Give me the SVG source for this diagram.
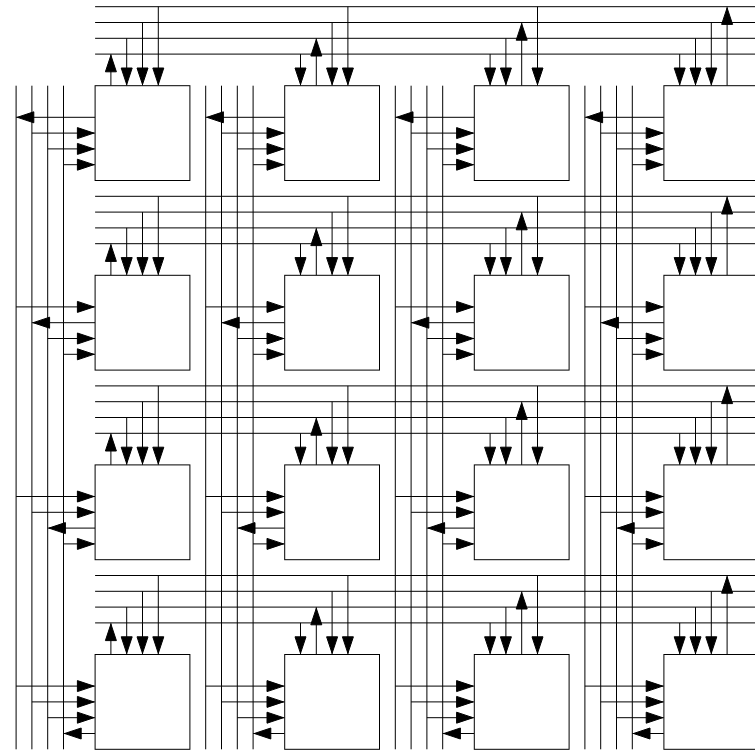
<svg xmlns="http://www.w3.org/2000/svg" width="755" height="750" viewBox="0 0 755 750">
<style>
line{stroke:#000;stroke-width:1;fill:none}
.a{marker-end:url(#arrow)}
.box{fill:#fff;stroke:#000;stroke-width:1}
</style>
<defs>
<marker id="arrow" markerUnits="userSpaceOnUse" markerWidth="20" markerHeight="13" refX="18.7" refY="6.5" orient="auto" overflow="visible"><path d="M1 1L17.5 6.5L1 12Z" fill="#000" stroke="#000" stroke-width="1" stroke-linejoin="round"/></marker>
</defs>
<rect width="755" height="750" fill="#fff"/>
<g id="connectors">
<g id="horizontal-buses">
<line x1="95.1" y1="6.7" x2="755" y2="6.7"/><line x1="95.1" y1="22.5" x2="755" y2="22.5"/><line x1="95.1" y1="38.3" x2="755" y2="38.3"/><line x1="95.1" y1="54.1" x2="755" y2="54.1"/>
<line x1="95.1" y1="196.3" x2="755" y2="196.3"/><line x1="95.1" y1="212.1" x2="755" y2="212.1"/><line x1="95.1" y1="227.9" x2="755" y2="227.9"/><line x1="95.1" y1="243.7" x2="755" y2="243.7"/>
<line x1="95.1" y1="385.9" x2="755" y2="385.9"/><line x1="95.1" y1="401.7" x2="755" y2="401.7"/><line x1="95.1" y1="417.5" x2="755" y2="417.5"/><line x1="95.1" y1="433.3" x2="755" y2="433.3"/>
<line x1="95.1" y1="575.5" x2="755" y2="575.5"/><line x1="95.1" y1="591.3" x2="755" y2="591.3"/><line x1="95.1" y1="607.1" x2="755" y2="607.1"/><line x1="95.1" y1="622.9" x2="755" y2="622.9"/>
</g>
<g id="vertical-buses">
<line x1="16.1" y1="85.7" x2="16.1" y2="749.3"/><line x1="31.9" y1="85.7" x2="31.9" y2="749.3"/><line x1="47.7" y1="85.7" x2="47.7" y2="749.3"/><line x1="63.5" y1="85.7" x2="63.5" y2="749.3"/>
<line x1="205.7" y1="85.7" x2="205.7" y2="749.3"/><line x1="221.5" y1="85.7" x2="221.5" y2="749.3"/><line x1="237.3" y1="85.7" x2="237.3" y2="749.3"/><line x1="253.1" y1="85.7" x2="253.1" y2="749.3"/>
<line x1="395.3" y1="85.7" x2="395.3" y2="749.3"/><line x1="411.1" y1="85.7" x2="411.1" y2="749.3"/><line x1="426.9" y1="85.7" x2="426.9" y2="749.3"/><line x1="442.7" y1="85.7" x2="442.7" y2="749.3"/>
<line x1="584.9" y1="85.7" x2="584.9" y2="749.3"/><line x1="600.7" y1="85.7" x2="600.7" y2="749.3"/><line x1="616.5" y1="85.7" x2="616.5" y2="749.3"/><line x1="632.3" y1="85.7" x2="632.3" y2="749.3"/>
</g>
<g id="top-stubs-row-0">
<line class="a" x1="110.9" y1="85.7" x2="110.9" y2="54.1"/><line class="a" x1="126.7" y1="38.3" x2="126.7" y2="85.7"/><line class="a" x1="142.5" y1="22.5" x2="142.5" y2="85.7"/><line class="a" x1="158.3" y1="6.7" x2="158.3" y2="85.7"/>
<line class="a" x1="300.5" y1="54.1" x2="300.5" y2="85.7"/><line class="a" x1="316.3" y1="85.7" x2="316.3" y2="38.3"/><line class="a" x1="332.1" y1="22.5" x2="332.1" y2="85.7"/><line class="a" x1="347.9" y1="6.7" x2="347.9" y2="85.7"/>
<line class="a" x1="490.1" y1="54.1" x2="490.1" y2="85.7"/><line class="a" x1="505.9" y1="38.3" x2="505.9" y2="85.7"/><line class="a" x1="521.7" y1="85.7" x2="521.7" y2="22.5"/><line class="a" x1="537.5" y1="6.7" x2="537.5" y2="85.7"/>
<line class="a" x1="679.7" y1="54.1" x2="679.7" y2="85.7"/><line class="a" x1="695.5" y1="38.3" x2="695.5" y2="85.7"/><line class="a" x1="711.3" y1="22.5" x2="711.3" y2="85.7"/><line class="a" x1="727.1" y1="85.7" x2="727.1" y2="6.7"/>
</g>
<g id="top-stubs-row-1">
<line class="a" x1="110.9" y1="275.3" x2="110.9" y2="243.7"/><line class="a" x1="126.7" y1="227.9" x2="126.7" y2="275.3"/><line class="a" x1="142.5" y1="212.1" x2="142.5" y2="275.3"/><line class="a" x1="158.3" y1="196.3" x2="158.3" y2="275.3"/>
<line class="a" x1="300.5" y1="243.7" x2="300.5" y2="275.3"/><line class="a" x1="316.3" y1="275.3" x2="316.3" y2="227.9"/><line class="a" x1="332.1" y1="212.1" x2="332.1" y2="275.3"/><line class="a" x1="347.9" y1="196.3" x2="347.9" y2="275.3"/>
<line class="a" x1="490.1" y1="243.7" x2="490.1" y2="275.3"/><line class="a" x1="505.9" y1="227.9" x2="505.9" y2="275.3"/><line class="a" x1="521.7" y1="275.3" x2="521.7" y2="212.1"/><line class="a" x1="537.5" y1="196.3" x2="537.5" y2="275.3"/>
<line class="a" x1="679.7" y1="243.7" x2="679.7" y2="275.3"/><line class="a" x1="695.5" y1="227.9" x2="695.5" y2="275.3"/><line class="a" x1="711.3" y1="212.1" x2="711.3" y2="275.3"/><line class="a" x1="727.1" y1="275.3" x2="727.1" y2="196.3"/>
</g>
<g id="top-stubs-row-2">
<line class="a" x1="110.9" y1="464.9" x2="110.9" y2="433.3"/><line class="a" x1="126.7" y1="417.5" x2="126.7" y2="464.9"/><line class="a" x1="142.5" y1="401.7" x2="142.5" y2="464.9"/><line class="a" x1="158.3" y1="385.9" x2="158.3" y2="464.9"/>
<line class="a" x1="300.5" y1="433.3" x2="300.5" y2="464.9"/><line class="a" x1="316.3" y1="464.9" x2="316.3" y2="417.5"/><line class="a" x1="332.1" y1="401.7" x2="332.1" y2="464.9"/><line class="a" x1="347.9" y1="385.9" x2="347.9" y2="464.9"/>
<line class="a" x1="490.1" y1="433.3" x2="490.1" y2="464.9"/><line class="a" x1="505.9" y1="417.5" x2="505.9" y2="464.9"/><line class="a" x1="521.7" y1="464.9" x2="521.7" y2="401.7"/><line class="a" x1="537.5" y1="385.9" x2="537.5" y2="464.9"/>
<line class="a" x1="679.7" y1="433.3" x2="679.7" y2="464.9"/><line class="a" x1="695.5" y1="417.5" x2="695.5" y2="464.9"/><line class="a" x1="711.3" y1="401.7" x2="711.3" y2="464.9"/><line class="a" x1="727.1" y1="464.9" x2="727.1" y2="385.9"/>
</g>
<g id="top-stubs-row-3">
<line class="a" x1="110.9" y1="654.5" x2="110.9" y2="622.9"/><line class="a" x1="126.7" y1="607.1" x2="126.7" y2="654.5"/><line class="a" x1="142.5" y1="591.3" x2="142.5" y2="654.5"/><line class="a" x1="158.3" y1="575.5" x2="158.3" y2="654.5"/>
<line class="a" x1="300.5" y1="622.9" x2="300.5" y2="654.5"/><line class="a" x1="316.3" y1="654.5" x2="316.3" y2="607.1"/><line class="a" x1="332.1" y1="591.3" x2="332.1" y2="654.5"/><line class="a" x1="347.9" y1="575.5" x2="347.9" y2="654.5"/>
<line class="a" x1="490.1" y1="622.9" x2="490.1" y2="654.5"/><line class="a" x1="505.9" y1="607.1" x2="505.9" y2="654.5"/><line class="a" x1="521.7" y1="654.5" x2="521.7" y2="591.3"/><line class="a" x1="537.5" y1="575.5" x2="537.5" y2="654.5"/>
<line class="a" x1="679.7" y1="622.9" x2="679.7" y2="654.5"/><line class="a" x1="695.5" y1="607.1" x2="695.5" y2="654.5"/><line class="a" x1="711.3" y1="591.3" x2="711.3" y2="654.5"/><line class="a" x1="727.1" y1="654.5" x2="727.1" y2="575.5"/>
</g>
<g id="left-stubs-row-0">
<line class="a" x1="95.1" y1="117.3" x2="16.1" y2="117.3"/><line class="a" x1="31.9" y1="133.1" x2="95.1" y2="133.1"/><line class="a" x1="47.7" y1="148.9" x2="95.1" y2="148.9"/><line class="a" x1="63.5" y1="164.7" x2="95.1" y2="164.7"/>
<line class="a" x1="284.7" y1="117.3" x2="205.7" y2="117.3"/><line class="a" x1="221.5" y1="133.1" x2="284.7" y2="133.1"/><line class="a" x1="237.3" y1="148.9" x2="284.7" y2="148.9"/><line class="a" x1="253.1" y1="164.7" x2="284.7" y2="164.7"/>
<line class="a" x1="474.3" y1="117.3" x2="395.3" y2="117.3"/><line class="a" x1="411.1" y1="133.1" x2="474.3" y2="133.1"/><line class="a" x1="426.9" y1="148.9" x2="474.3" y2="148.9"/><line class="a" x1="442.7" y1="164.7" x2="474.3" y2="164.7"/>
<line class="a" x1="663.9" y1="117.3" x2="584.9" y2="117.3"/><line class="a" x1="600.7" y1="133.1" x2="663.9" y2="133.1"/><line class="a" x1="616.5" y1="148.9" x2="663.9" y2="148.9"/><line class="a" x1="632.3" y1="164.7" x2="663.9" y2="164.7"/>
</g>
<g id="left-stubs-row-1">
<line class="a" x1="16.1" y1="306.9" x2="95.1" y2="306.9"/><line class="a" x1="95.1" y1="322.7" x2="31.9" y2="322.7"/><line class="a" x1="47.7" y1="338.5" x2="95.1" y2="338.5"/><line class="a" x1="63.5" y1="354.3" x2="95.1" y2="354.3"/>
<line class="a" x1="205.7" y1="306.9" x2="284.7" y2="306.9"/><line class="a" x1="284.7" y1="322.7" x2="221.5" y2="322.7"/><line class="a" x1="237.3" y1="338.5" x2="284.7" y2="338.5"/><line class="a" x1="253.1" y1="354.3" x2="284.7" y2="354.3"/>
<line class="a" x1="395.3" y1="306.9" x2="474.3" y2="306.9"/><line class="a" x1="474.3" y1="322.7" x2="411.1" y2="322.7"/><line class="a" x1="426.9" y1="338.5" x2="474.3" y2="338.5"/><line class="a" x1="442.7" y1="354.3" x2="474.3" y2="354.3"/>
<line class="a" x1="584.9" y1="306.9" x2="663.9" y2="306.9"/><line class="a" x1="663.9" y1="322.7" x2="600.7" y2="322.7"/><line class="a" x1="616.5" y1="338.5" x2="663.9" y2="338.5"/><line class="a" x1="632.3" y1="354.3" x2="663.9" y2="354.3"/>
</g>
<g id="left-stubs-row-2">
<line class="a" x1="16.1" y1="496.5" x2="95.1" y2="496.5"/><line class="a" x1="31.9" y1="512.3" x2="95.1" y2="512.3"/><line class="a" x1="95.1" y1="528.1" x2="47.7" y2="528.1"/><line class="a" x1="63.5" y1="543.9" x2="95.1" y2="543.9"/>
<line class="a" x1="205.7" y1="496.5" x2="284.7" y2="496.5"/><line class="a" x1="221.5" y1="512.3" x2="284.7" y2="512.3"/><line class="a" x1="284.7" y1="528.1" x2="237.3" y2="528.1"/><line class="a" x1="253.1" y1="543.9" x2="284.7" y2="543.9"/>
<line class="a" x1="395.3" y1="496.5" x2="474.3" y2="496.5"/><line class="a" x1="411.1" y1="512.3" x2="474.3" y2="512.3"/><line class="a" x1="474.3" y1="528.1" x2="426.9" y2="528.1"/><line class="a" x1="442.7" y1="543.9" x2="474.3" y2="543.9"/>
<line class="a" x1="584.9" y1="496.5" x2="663.9" y2="496.5"/><line class="a" x1="600.7" y1="512.3" x2="663.9" y2="512.3"/><line class="a" x1="663.9" y1="528.1" x2="616.5" y2="528.1"/><line class="a" x1="632.3" y1="543.9" x2="663.9" y2="543.9"/>
</g>
<g id="left-stubs-row-3">
<line class="a" x1="16.1" y1="686.1" x2="95.1" y2="686.1"/><line class="a" x1="31.9" y1="701.9" x2="95.1" y2="701.9"/><line class="a" x1="47.7" y1="717.7" x2="95.1" y2="717.7"/><line class="a" x1="95.1" y1="733.5" x2="63.5" y2="733.5"/>
<line class="a" x1="205.7" y1="686.1" x2="284.7" y2="686.1"/><line class="a" x1="221.5" y1="701.9" x2="284.7" y2="701.9"/><line class="a" x1="237.3" y1="717.7" x2="284.7" y2="717.7"/><line class="a" x1="284.7" y1="733.5" x2="253.1" y2="733.5"/>
<line class="a" x1="395.3" y1="686.1" x2="474.3" y2="686.1"/><line class="a" x1="411.1" y1="701.9" x2="474.3" y2="701.9"/><line class="a" x1="426.9" y1="717.7" x2="474.3" y2="717.7"/><line class="a" x1="474.3" y1="733.5" x2="442.7" y2="733.5"/>
<line class="a" x1="584.9" y1="686.1" x2="663.9" y2="686.1"/><line class="a" x1="600.7" y1="701.9" x2="663.9" y2="701.9"/><line class="a" x1="616.5" y1="717.7" x2="663.9" y2="717.7"/><line class="a" x1="663.9" y1="733.5" x2="632.3" y2="733.5"/>
</g>
</g>
<g id="node-r0-c0"><rect class="box" x="95.1" y="85.7" width="94.8" height="94.8"/></g>
<g id="node-r0-c1"><rect class="box" x="284.7" y="85.7" width="94.8" height="94.8"/></g>
<g id="node-r0-c2"><rect class="box" x="474.3" y="85.7" width="94.8" height="94.8"/></g>
<g id="node-r0-c3"><rect class="box" x="663.9" y="85.7" width="94.8" height="94.8"/></g>
<g id="node-r1-c0"><rect class="box" x="95.1" y="275.3" width="94.8" height="94.8"/></g>
<g id="node-r1-c1"><rect class="box" x="284.7" y="275.3" width="94.8" height="94.8"/></g>
<g id="node-r1-c2"><rect class="box" x="474.3" y="275.3" width="94.8" height="94.8"/></g>
<g id="node-r1-c3"><rect class="box" x="663.9" y="275.3" width="94.8" height="94.8"/></g>
<g id="node-r2-c0"><rect class="box" x="95.1" y="464.9" width="94.8" height="94.8"/></g>
<g id="node-r2-c1"><rect class="box" x="284.7" y="464.9" width="94.8" height="94.8"/></g>
<g id="node-r2-c2"><rect class="box" x="474.3" y="464.9" width="94.8" height="94.8"/></g>
<g id="node-r2-c3"><rect class="box" x="663.9" y="464.9" width="94.8" height="94.8"/></g>
<g id="node-r3-c0"><rect class="box" x="95.1" y="654.5" width="94.8" height="94.8"/></g>
<g id="node-r3-c1"><rect class="box" x="284.7" y="654.5" width="94.8" height="94.8"/></g>
<g id="node-r3-c2"><rect class="box" x="474.3" y="654.5" width="94.8" height="94.8"/></g>
<g id="node-r3-c3"><rect class="box" x="663.9" y="654.5" width="94.8" height="94.8"/></g>
</svg>
